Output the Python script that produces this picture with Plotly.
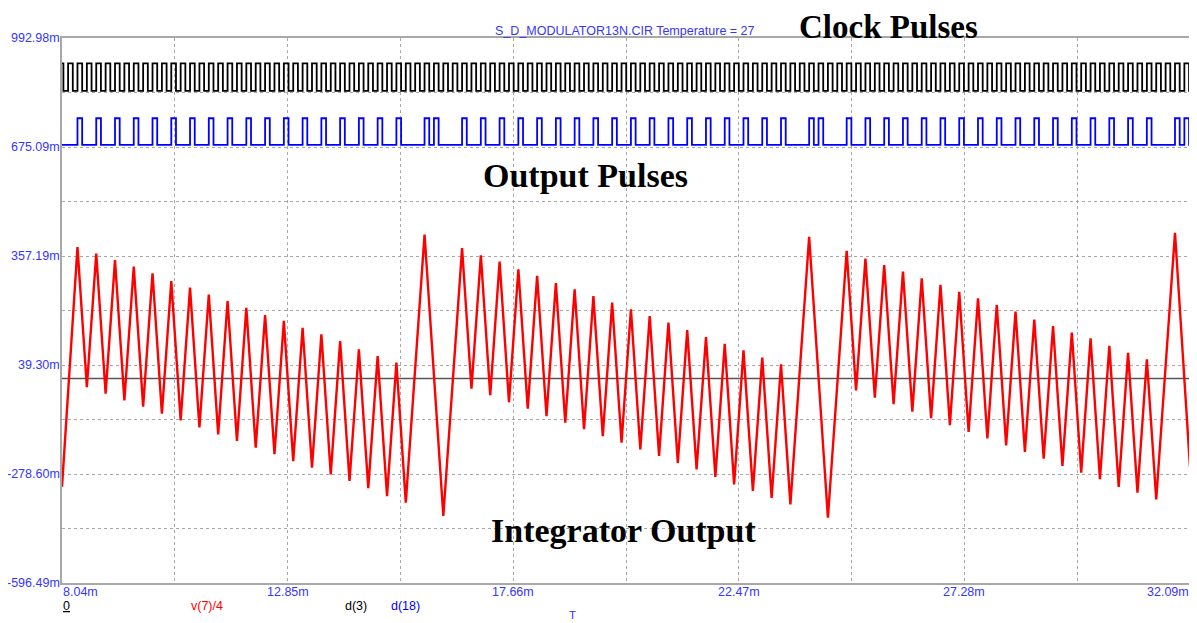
import plotly.graph_objects as go

# ---------------- data ----------------
X_MIN, X_MAX = 8.04, 32.09          # ms
Y_MIN, Y_MAX = -596.49, 992.98      # mV
X_TICKS = [8.04, 12.85, 17.66, 22.47, 27.28, 32.09]
X_TICK_LABELS = ["8.04m", "12.85m", "17.66m", "22.47m", "27.28m", "32.09m"]
Y_TICKS = [992.98, 675.09, 357.19, 39.30, -278.60, -596.49]
Y_TICK_LABELS = ["992.98m", "675.09m", "357.19m", "39.30m", "-278.60m", "-596.49m"]

CLK_PERIOD = 0.2      # ms (clock period)
CLK_T0 = 8.37         # ms, first output pulse edge
CLK_LOW, CLK_HIGH = 839, 919       # d(3) levels on the plot
OUT_LOW, OUT_HIGH = 681, 759       # d(18) levels on the plot

# d(18): one bit per clock period, starting at clock period index -2
OUT_BITS = ("00"
            "1010101010101010101010101010"
            "101010"
            "100"
            "1100"
            "1010101010101010101010101010101010"
            "100"
            "1100"
            "10101010101010101010101010101010"
            "100"
            "11")
OUT_FIRST_INDEX = -2

# v(7)/4 integrator output: turning points (clock-period index, mV)
RED_K = [-1.65, 0, 1, 2, 3, 4, 5, 6, 7, 8, 9, 10, 11, 12, 13, 14, 15, 16, 17, 18, 19,
         20, 21, 22, 23, 24, 25, 26, 27, 28, 29, 30, 31, 32, 33, 34, 35, 37, 39,
         41, 42, 43, 44, 45, 46, 47, 48, 49, 50, 51, 52, 53, 54, 55, 56, 57, 58, 59,
         60, 61, 62, 63, 64, 65, 66, 67, 68, 69, 70, 71, 72, 73, 74, 75, 76, 78, 80,
         82, 83, 84, 85, 86, 87, 88, 89, 90, 91, 92, 93, 94, 95, 96, 97, 98, 99,
         100, 101, 102, 103, 104, 105, 106, 107, 108, 109, 110, 111, 112, 113, 114,
         115, 117, 118.6]
RED_V = [-316, 383, -25, 364, -44, 345, -64, 326, -82, 307, -103, 284, -122, 265, -143,
         245, -163, 226, -182, 206, -202, 185, -221, 168, -241, 148, -260, 129, -280,
         109, -299, 85, -320, 65, -343, 46, -362, 420, -401,
         380, -30, 359, -49, 341, -69, 318, -88, 299, -110, 278, -129, 260, -148, 240,
         -168, 221, -187, 202, -207, 182, -226, 163, -246, 141, -265, 121, -287, 101,
         -309, 82, -328, 61, -348, 41, -367, 413, -406,
         372, -35, 350, -56, 331, -75, 312, -97, 292, -116, 273, -136, 253, -156, 234,
         -175, 214, -195, 195, -214, 172, -234, 153, -255, 134, -275, 117, -294, 95,
         -316, 75, -333, 56, -353, 425, -258]

# ---------------- build step traces ----------------
def steps_from_edges(edges, start_level):
    edges = sorted(edges)
    level = start_level
    xs, ys = [], []
    for t, lv in edges:
        if t <= X_MIN:
            level = lv
    xs.append(X_MIN); ys.append(level)
    for t, lv in edges:
        if X_MIN < t < X_MAX:
            xs.append(t); ys.append(lv)
            level = lv
    xs.append(X_MAX); ys.append(level)
    return xs, ys

# clock edges
clk_edges = []
m = -10
while True:
    t = CLK_T0 + m * CLK_PERIOD / 2
    if t > X_MAX + CLK_PERIOD:
        break
    clk_edges.append((t, CLK_HIGH if m % 2 == 0 else CLK_LOW))
    m += 1
clk_x, clk_y = steps_from_edges(clk_edges, CLK_LOW)

# output pulse edges
out_edges = []
for i, b in enumerate(OUT_BITS):
    n = OUT_FIRST_INDEX + i
    ts = CLK_T0 + n * CLK_PERIOD
    if b == "1":
        out_edges.append((ts, OUT_HIGH))
        out_edges.append((ts + CLK_PERIOD / 2, OUT_LOW))
    else:
        out_edges.append((ts, OUT_LOW))
out_x, out_y = steps_from_edges(out_edges, OUT_LOW)

red_t = [CLK_T0 + k * CLK_PERIOD for k in RED_K]

# ---------------- figure ----------------
BLUE_TXT = "#3535ff"
GRID = "#a8a8a8"

fig = go.Figure()
fig.add_trace(go.Scatter(x=[X_MIN, X_MAX], y=[0, 0], mode="lines",
                         line=dict(color="#555555", width=1.5), hoverinfo="skip"))
fig.add_trace(go.Scatter(x=red_t, y=RED_V, mode="lines",
                         line=dict(color="#ff0000", width=2.4), hoverinfo="skip"))
fig.add_trace(go.Scatter(x=clk_x, y=clk_y, mode="lines", line_shape="hv",
                         line=dict(color="#000000", width=1.8), hoverinfo="skip"))
fig.add_trace(go.Scatter(x=out_x, y=out_y, mode="lines", line_shape="hv",
                         line=dict(color="#0000ff", width=1.8), hoverinfo="skip"))

xgrid = [X_MIN + i * (X_MAX - X_MIN) / 10 for i in range(11)]
ygrid = [Y_MIN + i * (Y_MAX - Y_MIN) / 10 for i in range(11)]

fig.update_xaxes(range=[X_MIN, X_MAX], tickvals=xgrid, showticklabels=False,
                 showgrid=True, gridcolor=GRID, griddash="3px,3px", gridwidth=1,
                 showline=True, linecolor=GRID, linewidth=1.5, mirror=True,
                 zeroline=False, ticks="")
fig.update_yaxes(range=[Y_MIN, Y_MAX], tickvals=ygrid, showticklabels=False,
                 showgrid=True, gridcolor=GRID, griddash="3px,3px", gridwidth=1,
                 showline=True, linecolor=GRID, linewidth=1.5, mirror=True,
                 zeroline=False, ticks="")

ann = []
lab_font = dict(family="Liberation Sans, Arial, sans-serif", size=12.5, color=BLUE_TXT)
for v, s in zip(Y_TICKS, Y_TICK_LABELS):
    ann.append(dict(x=0, xref="paper", y=v, yref="y", text=s, showarrow=False,
                    xanchor="right", yanchor="middle", xshift=-1, font=lab_font,
                    borderpad=0))
for i, (v, s) in enumerate(zip(X_TICKS, X_TICK_LABELS)):
    xa = "left" if i == 0 else ("right" if i == len(X_TICKS) - 1 else "center")
    ann.append(dict(x=v, xref="x", y=-0.0165, yref="paper", text=s, showarrow=False,
                    xanchor=xa, yanchor="middle", font=lab_font, borderpad=0))

ann.append(dict(x=0.4991, xref="paper", y=1.0128, yref="paper",
                text="S_D_MODULATOR13N.CIR Temperature = 27", showarrow=False,
                xanchor="center", yanchor="middle", font=lab_font, borderpad=0))

leg_y = -0.0422
ann.append(dict(x=0, xref="paper", y=leg_y, yref="paper", text="<u>0</u>",
                showarrow=False, xanchor="left", yanchor="middle", borderpad=0,
                font=dict(family="Liberation Sans, Arial", size=12.5, color="#000000")))
ann.append(dict(x=0.1283, xref="paper", y=leg_y, yref="paper", text="v(7)/4",
                showarrow=False, xanchor="center", yanchor="middle", borderpad=0,
                font=dict(family="Liberation Sans, Arial", size=12.5, color="#ff0000")))
ann.append(dict(x=0.261, xref="paper", y=leg_y, yref="paper", text="d(3)",
                showarrow=False, xanchor="center", yanchor="middle", borderpad=0,
                font=dict(family="Liberation Sans, Arial", size=12.5, color="#000000")))
ann.append(dict(x=0.3044, xref="paper", y=leg_y, yref="paper", text="d(18)",
                showarrow=False, xanchor="center", yanchor="middle", borderpad=0,
                font=dict(family="Liberation Sans, Arial", size=12.5, color="#0000ff")))
ann.append(dict(x=0.4522, xref="paper", y=-0.0587, yref="paper", text="T",
                showarrow=False, xanchor="center", yanchor="middle", borderpad=0,
                font=dict(family="Liberation Sans, Arial", size=11.5, color=BLUE_TXT)))

big_font = dict(family="Liberation Serif, Times New Roman, serif", size=34, color="#000000")
ann.append(dict(x=0.7323, xref="paper", y=1.0205, yref="paper", text="<b>Clock Pulses</b>",
                showarrow=False, xanchor="center", yanchor="middle",
                font=dict(family="Liberation Serif, Times New Roman, serif", size=33,
                          color="#000000"),
                borderpad=0))
ann.append(dict(x=0.4637, xref="paper", y=0.7486, yref="paper", text="<b>Output Pulses</b>",
                showarrow=False, xanchor="center", yanchor="middle", font=big_font,
                borderpad=0))
ann.append(dict(x=0.4982, xref="paper", y=0.0972, yref="paper",
                text="<b>Integrator Output</b>",
                showarrow=False, xanchor="center", yanchor="middle", font=big_font,
                borderpad=0))

# page body adds an 8 px offset, so the figure is 8 px smaller and margins shifted
fig.update_layout(width=1189, height=615, margin=dict(l=54, r=5, t=30, b=40),
                  paper_bgcolor="white", plot_bgcolor="white", showlegend=False,
                  annotations=ann)

fig.write_html("out.html")
